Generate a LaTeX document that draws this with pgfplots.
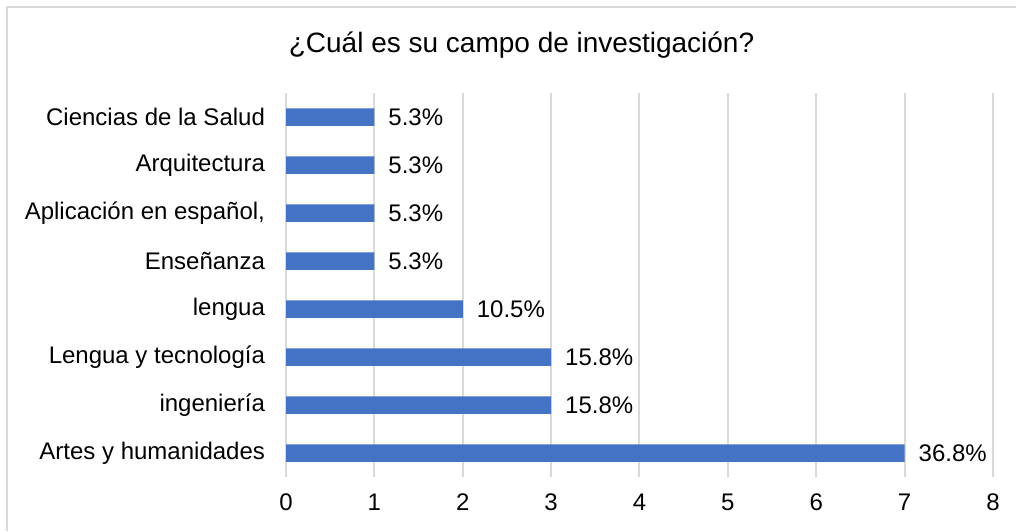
\documentclass[border=0pt]{standalone}
\usepackage{pgfplots}
\pgfplotsset{compat=1.18}
\usepackage{fontspec}
\setmainfont{Liberation Sans}
\definecolor{barblue}{HTML}{4472C4}
\definecolor{gridgray}{HTML}{D9D9D9}
\begin{document}
\begin{tikzpicture}
\useasboundingbox (0,0) rectangle (508pt,265.5pt);
\draw[gridgray, line width=1pt] (3.5pt,0) -- (3.5pt,262pt) -- (508pt,262pt);
\node[font=\fontsize{14}{16}\selectfont] at (260.75pt,243pt) {¿Cuál es su campo de investigación?};
\begin{axis}[
  at={(143pt,27pt)}, anchor=south west,
  scale only axis, width=353.5pt, height=192pt,
  xbar, bar width=8.75pt,
  xmin=0, xmax=8, ymin=-0.5, ymax=7.5,
  xtick={0,1,...,8}, ytick={0,1,...,7},
  yticklabels={Artes y humanidades, ingeniería, Lengua y tecnología, lengua, Enseñanza, {Aplicación en español,}, Arquitectura, Ciencias de la Salud},
  xmajorgrids, major grid style={gridgray, line width=1pt},
  axis line style={draw=none},
  major tick length=0pt,
  tick label style={font=\fontsize{12}{14}\selectfont},
  xticklabel style={yshift=-5pt},
  yticklabel style={xshift=-7pt},
  /pgf/number format/assume math mode=true,
  nodes near coords, point meta=explicit symbolic,
  every node near coord/.append style={font=\fontsize{12}{14}\selectfont, anchor=west, xshift=3.5pt},
  clip=false,
]
\addplot[fill=barblue, draw=none] coordinates {
(7,0) [36.8\%]
(3,1) [15.8\%]
(3,2) [15.8\%]
(2,3) [10.5\%]
(1,4) [5.3\%]
(1,5) [5.3\%]
(1,6) [5.3\%]
(1,7) [5.3\%]
};
\end{axis}
\end{tikzpicture}
\end{document}
